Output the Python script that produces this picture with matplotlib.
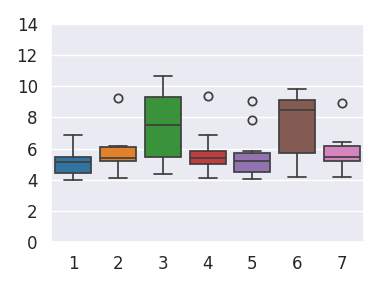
import matplotlib
matplotlib.use("Agg")
import matplotlib.pyplot as plt
import seaborn as sns

sns.set_theme(style="darkgrid")

# box statistics, one entry per group
groups = ["1", "2", "3", "4", "5", "6", "7"]
whislo = [3.96, 4.09, 4.37, 4.09, 4.05, 4.17, 4.20]
q1 = [4.41, 5.17, 5.49, 5.03, 4.51, 5.73, 5.22]
med = [5.15, 5.37, 7.54, 5.41, 5.20, 8.45, 5.45]
q3 = [5.43, 6.11, 9.32, 5.86, 5.73, 9.13, 6.17]
whishi = [6.88, 6.19, 10.69, 6.88, 5.86, 9.81, 6.43]
fliers = [[], [9.24], [], [9.39], [9.09, 7.81], [], [8.92]]
colors = ["#3274a1", "#e1812c", "#3a923a", "#c03d3e", "#9372b2", "#845b53", "#d684bd"]

stats = []
for i, g in enumerate(groups):
    stats.append(dict(label=g, whislo=whislo[i], q1=q1[i], med=med[i],
                      q3=q3[i], whishi=whishi[i], fliers=fliers[i]))

fig = plt.figure(figsize=(3.82, 2.87), dpi=100)
ax = fig.add_axes([0.1335, 0.157, 0.82, 0.759])

line = "#3f3f3f"
lw = 1.25
bp = ax.bxp(stats, positions=range(len(groups)), widths=0.8, patch_artist=True,
            boxprops=dict(edgecolor=line, linewidth=lw),
            medianprops=dict(color=line, linewidth=lw),
            whiskerprops=dict(color=line, linewidth=lw),
            capprops=dict(color=line, linewidth=lw),
            flierprops=dict(marker="o", markerfacecolor="none",
                            markeredgecolor=line, markersize=6, markeredgewidth=lw))
for patch, c in zip(bp["boxes"], colors):
    patch.set_facecolor(c)

ax.set_xlim(-0.5, len(groups) - 0.5)
ax.set_ylim(0, 14)
ax.set_yticks(range(0, 15, 2))
ax.set_xticks(range(len(groups)))
ax.set_xticklabels(groups)
ax.tick_params(labelsize=12)
ax.grid(axis="x", visible=False)

fig.savefig("out.png", dpi=100)
